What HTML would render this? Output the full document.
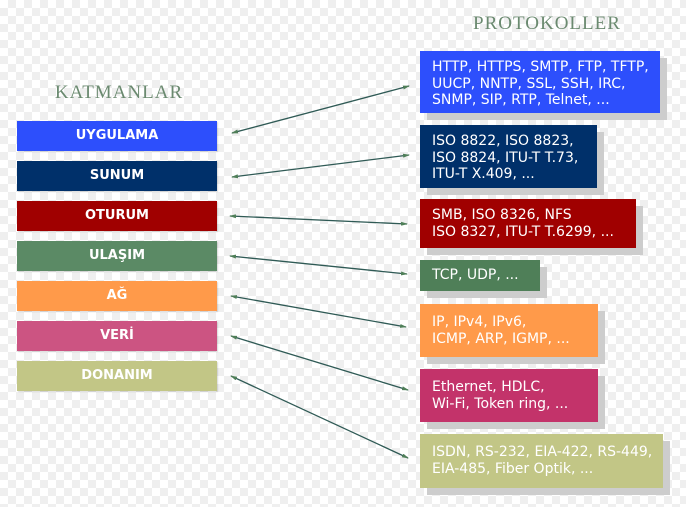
<!DOCTYPE html>
<html><head><meta charset="utf-8"><style>
html,body{margin:0;padding:0}
body{width:686px;height:507px;position:relative;overflow:hidden;font-family:"DejaVu Sans","Liberation Sans",sans-serif;
background-color:#fff;background-image:linear-gradient(45deg,#efefef 25%,transparent 25%,transparent 75%,#efefef 75%),linear-gradient(45deg,#efefef 25%,transparent 25%,transparent 75%,#efefef 75%);background-size:16px 16px;background-position:0 0,8px 8px}
.title{position:absolute;font-family:"Liberation Serif",serif;color:#6b8a70;font-size:19px;letter-spacing:1px;width:200px;text-align:center}
.layer{position:absolute;left:17px;width:200px;height:30px;line-height:30px;text-align:center;color:#fff;font-weight:bold;font-size:13px;box-shadow:1px 1px 1px rgba(0,0,0,.15)}
.proto{position:absolute;left:420px;color:#fff;font-size:14px;line-height:16.5px;padding:8px 0 0 12px;box-sizing:border-box;box-shadow:7px 7px 0 #cdcdcd;white-space:nowrap}
svg{position:absolute;left:0;top:0}
</style></head><body>
<div class="title" style="left:447px;top:13px">PROTOKOLLER</div>
<div class="title" style="left:19px;top:82px">KATMANLAR</div>

<div class="layer" style="top:121px;background:#2d4ffc">UYGULAMA</div>
<div class="layer" style="top:161px;background:#00306a">SUNUM</div>
<div class="layer" style="top:201px;background:#a00000">OTURUM</div>
<div class="layer" style="top:241px;background:#5b8a65">ULAŞIM</div>
<div class="layer" style="top:281px;background:#ff9a4a">AĞ</div>
<div class="layer" style="top:321px;background:#cc5482">VERİ</div>
<div class="layer" style="top:361px;background:#c2c686">DONANIM</div>

<div class="proto" style="top:51px;width:240px;height:62px;background:#2d4ffc">HTTP, HTTPS, SMTP, FTP, TFTP,<br>UUCP, NNTP, SSL, SSH, IRC,<br>SNMP, SIP, RTP, Telnet, ...</div>
<div class="proto" style="top:125px;width:177px;height:63px;background:#00306a">ISO 8822, ISO 8823,<br>ISO 8824, ITU-T T.73,<br>ITU-T X.409, ...</div>
<div class="proto" style="top:199px;width:216px;height:49px;background:#a00000;padding-top:8px">SMB, ISO 8326, NFS<br>ISO 8327, ITU-T T.6299, ...</div>
<div class="proto" style="top:260px;width:120px;height:31px;background:#4f7f58;padding-top:7px">TCP, UDP, ...</div>
<div class="proto" style="top:304px;width:178px;height:53px;background:#ff9a4a;padding-top:10px">IP, IPv4, IPv6,<br>ICMP, ARP, IGMP, ...</div>
<div class="proto" style="top:369px;width:178px;height:53px;background:#c3336a;padding-top:10px">Ethernet, HDLC,<br>Wi-Fi, Token ring, ...</div>
<div class="proto" style="top:434px;width:243px;height:54px;background:#c2c686;padding-top:10px">ISDN, RS-232, EIA-422, RS-449,<br>EIA-485, Fiber Optik, ...</div>

<svg width="686" height="507">
<defs><marker id="ah" markerWidth="7" markerHeight="4" refX="6" refY="2" orient="auto-start-reverse" markerUnits="userSpaceOnUse"><path d="M0,0 L7,2 L0,4 z" fill="#4f7f58"/></marker></defs>
<g stroke="#2f5a55" stroke-width="1.3" marker-start="url(#ah)" marker-end="url(#ah)">
<line x1="232" y1="133" x2="409" y2="86"/>
<line x1="232" y1="177" x2="409" y2="155"/>
<line x1="230" y1="216" x2="407" y2="224"/>
<line x1="230" y1="256" x2="407" y2="274"/>
<line x1="231" y1="296" x2="406" y2="327"/>
<line x1="231" y1="336" x2="408" y2="390"/>
<line x1="231" y1="376" x2="408" y2="458"/>
</g></svg>
</body></html>
